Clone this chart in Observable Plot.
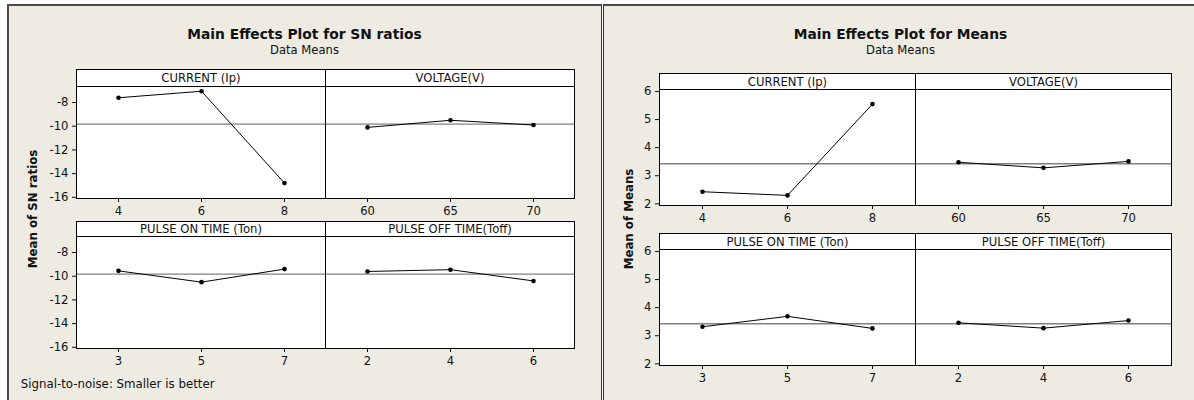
<!DOCTYPE html>
<html>
<head>
<meta charset="utf-8">
<script src="https://cdn.jsdelivr.net/npm/d3@7"></script>
<script src="https://cdn.jsdelivr.net/npm/@observablehq/plot@0.6"></script>
<style>
  html, body { margin: 0; padding: 0; }
  body { width: 1194px; height: 400px; overflow: hidden; position: relative; background: #ffffff;
         font-family: "DejaVu Sans", Verdana, sans-serif; color: #111; }
  .chart { position: absolute; top: 4px; height: 396px; box-sizing: border-box; background: #EEEBE3;
           border-top: 2px solid #4a4a4a; }
  .abs { position: absolute; white-space: nowrap; }
  .title { font-weight: bold; font-size: 13.8px; line-height: 13.8px; text-align: center; }
  .subtitle { font-size: 11.6px; line-height: 11.6px; text-align: center; }
  .strip { position: absolute; box-sizing: border-box; border: 1px solid #000; background: #fff;
           font-size: 11.6px; display: flex; align-items: center; justify-content: center; white-space: nowrap; }
  .ylab { font-weight: bold; font-size: 11.8px; transform: translate(-50%, -50%) rotate(-90deg); }
  .note { font-size: 11.8px; line-height: 11.8px; }
  svg.plotpanel { position: absolute; overflow: visible; }
</style>
</head>
<body>
<div class="chart" style="left:7px; width:595px; border-left:2px solid #4a4a4a; border-right:1px solid #333;"></div>
<div class="chart" style="left:603px; width:600px; border-left:1px solid #333;"></div>
<script>
// ---------- data ----------
const factorNames = ["CURRENT (Ip)", "VOLTAGE(V)", "PULSE ON TIME (Ton)", "PULSE OFF TIME(Toff)"];
const levelsCurrent = [4, 6, 8];
const levelsVoltage = [60, 65, 70];
const levelsTon = [3, 5, 7];
const levelsToff = [2, 4, 6];

// Mean of SN ratios
const snCurrent = [-7.6, -7.05, -14.8];
const snVoltage = [-10.1, -9.5, -9.9];
const snTon = [-9.55, -10.5, -9.4];
const snToff = [-9.6, -9.45, -10.4];

// Mean of Means
const mnCurrent = [2.43, 2.30, 5.55];
const mnVoltage = [3.48, 3.28, 3.51];
const mnTon = [3.32, 3.69, 3.26];
const mnToff = [3.46, 3.27, 3.54];

const snTicks = [-16, -14, -12, -10, -8];
const mnTicks = [2, 3, 4, 5, 6];

const snTitle = "Main Effects Plot for SN ratios";
const mnTitle = "Main Effects Plot for Means";
const subTitle = "Data Means";
const snYLabel = "Mean of SN ratios";
const mnYLabel = "Mean of Means";
const snNote = "Signal-to-noise: Smaller is better";

// ---------- layout ----------
const FONT = "DejaVu Sans, Verdana, sans-serif";

function addDiv(cls, text, style) {
  const d = document.createElement("div");
  d.className = cls;
  d.textContent = text;
  Object.assign(d.style, style);
  document.body.appendChild(d);
  return d;
}

function panel({levels, values, mean, ydomain, yticks, showY, x0, w, stripTop, plotTop, plotBottom, strip}) {
  const ml = 44, mr = 2, mt = 2, mb = 30;
  const h = plotBottom - plotTop;
  const data = levels.map((l, i) => ({level: l, value: values[i]}));
  const marks = [
    Plot.frame({fill: "white"}),
    Plot.ruleY([mean], {stroke: "#808080", strokeWidth: 1.4}),
    Plot.line(data, {x: "level", y: "value", stroke: "#000", strokeWidth: 1}),
    Plot.dot(data, {x: "level", y: "value", r: 2.3, fill: "#000", stroke: "none"}),
    Plot.frame({stroke: "#000", strokeWidth: 1}),
    Plot.axisX({tickSize: 4, tickPadding: 4, tickFormat: d => String(d), label: null, fontSize: 11.6})
  ];
  if (showY) marks.push(Plot.axisY({ticks: yticks, tickSize: 4, tickPadding: 4, tickFormat: d => String(d), label: null, fontSize: 11.6}));
  const svg = Plot.plot({
    width: w + ml + mr,
    height: h + mt + mb,
    marginLeft: ml, marginRight: mr, marginTop: mt, marginBottom: mb,
    style: {background: "transparent", fontFamily: FONT, fontSize: "11.6px", color: "#111", overflow: "visible"},
    x: {type: "point", domain: levels, padding: 0.5, axis: null},
    y: {domain: ydomain, axis: null},
    marks
  });
  svg.classList.add("plotpanel");
  svg.style.left = (x0 - ml) + "px";
  svg.style.top = (plotTop - mt) + "px";
  svg.style.position = "absolute";
  svg.style.maxWidth = "none";
  document.body.appendChild(svg);
  const s = addDiv("strip", strip, {});
  s.style.left = x0 + "px";
  s.style.top = stripTop + "px";
  s.style.width = (w + 1) + "px";
  s.style.height = (plotTop - stripTop + 1) + "px";
}

function chart({boxLeft, boxWidth, cols, rows, ydomain, yticks, series, levelsList, title, ylabel, ylabelX}) {
  const mean = d3.mean(series.flat());
  addDiv("abs title", title, {left: boxLeft + "px", width: boxWidth + "px", top: "27.6px"});
  addDiv("abs subtitle", subTitle, {left: boxLeft + "px", width: boxWidth + "px", top: "44.9px"});
  for (let r = 0; r < 2; r++) {
    for (let c = 0; c < 2; c++) {
      const k = r * 2 + c;
      panel({
        levels: levelsList[k], values: series[k], mean, ydomain, yticks, showY: c === 0,
        x0: cols[c], w: cols[c + 1] - cols[c],
        stripTop: rows[r].stripTop, plotTop: rows[r].plotTop, plotBottom: rows[r].plotBottom,
        strip: factorNames[k]
      });
    }
  }
  const cy = (rows[0].stripTop + rows[1].plotBottom) / 2;
  addDiv("abs ylab", ylabel, {left: ylabelX + "px", top: cy + "px"});
}

const levelsList = [levelsCurrent, levelsVoltage, levelsTon, levelsToff];

chart({
  boxLeft: 7, boxWidth: 595,
  cols: [76, 325, 574],
  rows: [{stripTop: 69, plotTop: 86, plotBottom: 198}, {stripTop: 221, plotTop: 236, plotBottom: 348}],
  ydomain: [-16.1, -6.65], yticks: snTicks,
  series: [snCurrent, snVoltage, snTon, snToff], levelsList,
  title: snTitle, ylabel: snYLabel, ylabelX: 32.5
});

chart({
  boxLeft: 603, boxWidth: 595,
  cols: [659, 915, 1171],
  rows: [{stripTop: 73, plotTop: 89, plotBottom: 205}, {stripTop: 233, plotTop: 249, plotBottom: 365}],
  ydomain: [1.94, 6.07], yticks: mnTicks,
  series: [mnCurrent, mnVoltage, mnTon, mnToff], levelsList,
  title: mnTitle, ylabel: mnYLabel, ylabelX: 628.7
});

addDiv("abs note", snNote, {left: "20.7px", top: "379.3px"});
</script>
</body>
</html>
